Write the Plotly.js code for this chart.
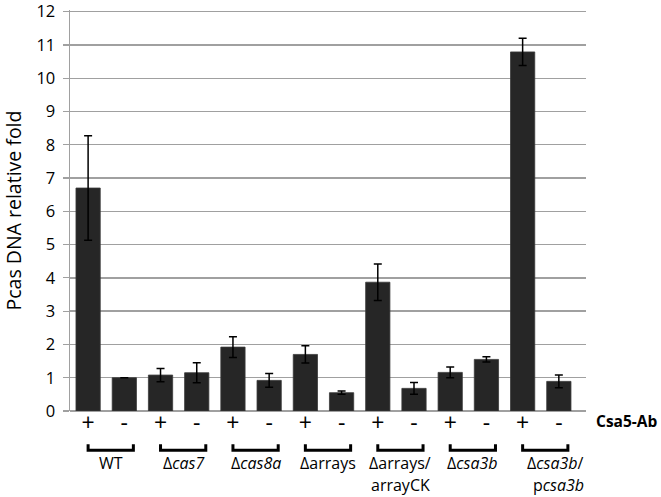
<!DOCTYPE html>
<html>
<head>
<meta charset="utf-8">
<script src="https://cdn.plot.ly/plotly-3.0.1.min.js"></script>
<style>html,body{margin:0;padding:0;background:#fff;}#chart{width:661px;height:497px;}</style>
</head>
<body>
<div id="chart"></div>
<script>
// Data
const groups = ["WT", "Δ<i>cas7</i>", "Δ<i>cas8a</i>", "Δarrays", "Δarrays/<br>arrayCK", "Δ<i>csa3b</i>", "Δ<i>csa3b</i>/<br>p<i>csa3b</i>"];
const signs = ["+", "-"];
const values = [6.7, 1.0, 1.08, 1.15, 1.92, 0.92, 1.7, 0.55, 3.87, 0.68, 1.16, 1.55, 10.79, 0.89];
const errors = [1.57, 0, 0.2, 0.3, 0.31, 0.21, 0.26, 0.05, 0.55, 0.18, 0.16, 0.08, 0.41, 0.19];
const yTicks = [0, 1, 2, 3, 4, 5, 6, 7, 8, 9, 10, 11, 12];
const antibodyLabel = "Csa5-Ab";
const yTitle = "Pcas DNA relative fold";

const cats = [], tickText = [];
groups.forEach((g, gi) => signs.forEach(s => { cats.push("g" + gi + s); tickText.push(s); }));

const FONT = "'Open Sans', sans-serif";

const trace = {
  type: "bar",
  x: cats,
  y: values,
  marker: {color: "#262626", line: {color: "#3a3a3a", width: 0.8}},
  error_y: {type: "data", array: errors, visible: true, color: "#000", thickness: 1.5, width: 4},
  hoverinfo: "none",
  cliponaxis: false
};

const shapes = [], annotations = [];
groups.forEach((g, gi) => {
  const x0 = 2 * gi, x1 = 2 * gi + 1.25;
  shapes.push({
    type: "path", xref: "x", yref: "paper",
    path: `M ${x0},-0.083 L ${x0},-0.098 L ${x1},-0.098 L ${x1},-0.083`,
    line: {color: "#000", width: 3}
  });
  const lines = g.split("<br>");
  const last = gi === groups.length - 1;
  lines.forEach((t, li) => {
    annotations.push({
      xref: "x", yref: "paper", x: last ? x1 + 0.5 : (x0 + x1) / 2, y: -0.13 - li * 0.055,
      yanchor: "middle", xanchor: last ? "right" : "center", showarrow: false,
      text: t, font: {family: FONT, size: 16, color: "#000"}
    });
  });
});
annotations.push({
  xref: "paper", yref: "paper", x: 1.015, y: -0.025, xanchor: "left", yanchor: "middle",
  showarrow: false, text: "<b>" + antibodyLabel + "</b>", font: {family: FONT, size: 15.5, color: "#000"}
});

const layout = {
  width: 661, height: 497,
  margin: {l: 70, r: 75, t: 10, b: 86},
  paper_bgcolor: "#fff", plot_bgcolor: "#fff",
  showlegend: false,
  bargap: 0.33,
  font: {family: FONT, color: "#000"},
  xaxis: {
    type: "category", categoryorder: "array", categoryarray: cats,
    tickvals: cats, ticktext: tickText,
    tickfont: {family: FONT, size: 23, color: "#000"},
    showgrid: false, zeroline: false, showline: false, ticks: "", ticklen: 0,
    ticklabelstandoff: -4
  },
  yaxis: {
    range: [0, 12.05], tickmode: "array", tickvals: yTicks,
    ticklabeloverflow: "allow",
    showgrid: true, gridcolor: "#a0a0a0", gridwidth: 1.4,
    zeroline: true, zerolinecolor: "#a0a0a0", zerolinewidth: 1.4,
    showline: true, linecolor: "#a0a0a0", linewidth: 1.4,
    ticks: "outside", ticklen: 6, tickcolor: "#a0a0a0", tickwidth: 1.2,
    ticklabelstandoff: 4,
    tickfont: {family: FONT, size: 16.5, color: "#000"},
    title: {text: yTitle, font: {family: FONT, size: 19.5, color: "#000"}, standoff: 10}
  },
  shapes: shapes,
  annotations: annotations
};

Plotly.newPlot("chart", [trace], layout, {displayModeBar: false, staticPlot: true});
</script>
</body>
</html>
